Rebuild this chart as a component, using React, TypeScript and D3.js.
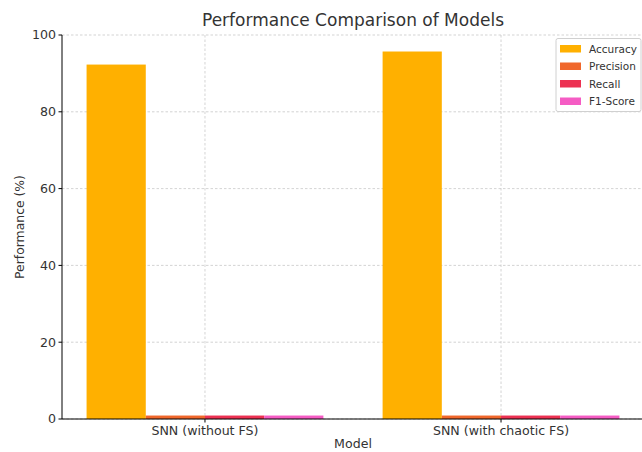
import React from "react";
import * as d3 from "d3";

const models = ["SNN (without FS)", "SNN (with chaotic FS)"];
const metrics = ["Accuracy", "Precision", "Recall", "F1-Score"];
const accuracy = [92.3, 95.7];
const precision = [0.9, 0.9];
const recall = [0.9, 0.9];
const f1 = [0.9, 0.9];
const colors = ["#FFB000", "#F0672B", "#EC3152", "#F55CC4"];
const yTicks = [0, 20, 40, 60, 80, 100];

const W = 642, H = 452;
const left = 62, top = 35, bottom = 419;

export default function App() {
  const series = [accuracy, precision, recall, f1];
  const x = d3.scaleLinear().domain([-0.483, 1.483]).range([left, 644]);
  const y = d3.scaleLinear().domain([0, 100]).range([bottom, top]);
  const bw = 0.2;
  const font = "DejaVu Sans, sans-serif";
  return (
    <svg width={W} height={H} style={{ position: "absolute", left: 0, top: 0, background: "#fff" }} fontFamily={font}>
      {yTicks.map((t) => (
        <line key={"gy" + t} x1={left} x2={644} y1={y(t)} y2={y(t)} stroke="#c8c8c8" strokeWidth={0.8} strokeDasharray="2.5,2" />
      ))}
      {models.map((m, i) => (
        <line key={"gx" + i} x1={x(i)} x2={x(i)} y1={top} y2={bottom} stroke="#c8c8c8" strokeWidth={0.8} strokeDasharray="2.5,2" />
      ))}
      {series.map((s, k) =>
        s.map((v, i) => {
          const x0 = x(i + (k - 1.5) * bw - bw / 2);
          const x1 = x(i + (k - 1.5) * bw + bw / 2);
          return <rect key={k + "-" + i} x={x0} y={y(v)} width={x1 - x0} height={y(0) - y(v)} fill={colors[k]} />;
        })
      )}
      <line x1={left} x2={644} y1={bottom} y2={bottom} stroke="#000" strokeWidth={1} />
      <line x1={left} x2={left} y1={top} y2={bottom} stroke="#000" strokeWidth={1} />
      {yTicks.map((t) => (
        <g key={"yt" + t}>
          <line x1={left - 3.5} x2={left} y1={y(t)} y2={y(t)} stroke="#000" />
          <text x={left - 6} y={y(t)} dy="0.35em" textAnchor="end" fontSize={12.6} fill="#333">{t}</text>
        </g>
      ))}
      {models.map((m, i) => (
        <g key={"xt" + i}>
          <line x1={x(i)} x2={x(i)} y1={bottom} y2={bottom + 3.5} stroke="#000" />
          <text x={x(i)} y={bottom + 16} textAnchor="middle" fontSize={12.6} fill="#333">{m}</text>
        </g>
      ))}
      <text x={353} y={448} textAnchor="middle" fontSize={12.6} fill="#333">Model</text>
      <text transform={`translate(24,${(top + bottom) / 2}) rotate(-90)`} textAnchor="middle" fontSize={12.4} fill="#333">Performance (%)</text>
      <text x={353} y={26} textAnchor="middle" fontSize={17} fill="#333">Performance Comparison of Models</text>
      <rect x={556} y={38.5} width={85} height={73} fill="#fff" fillOpacity={0.8} stroke="#d0d0d0" rx={2} />
      {metrics.map((m, k) => (
        <g key={m}>
          <rect x={560} y={45 + k * 17.5} width={21} height={7.5} fill={colors[k]} />
          <text x={589} y={49 + k * 17.5} dy="0.35em" fontSize={10.5} fill="#333">{m}</text>
        </g>
      ))}
    </svg>
  );
}
